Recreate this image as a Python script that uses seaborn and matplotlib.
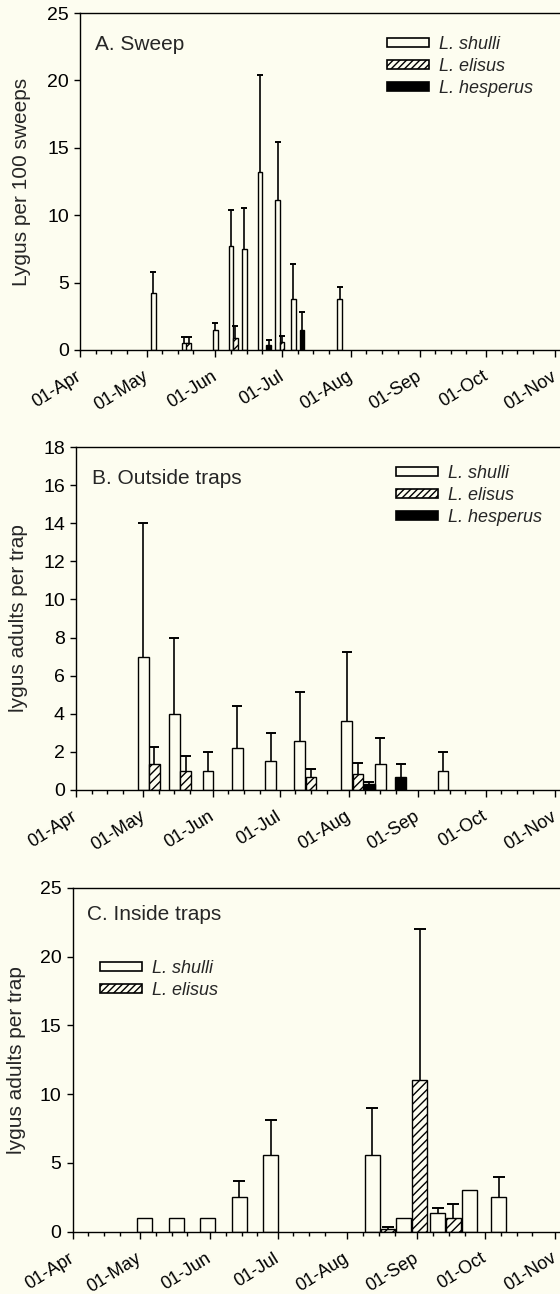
import numpy as np
import pandas as pd
import matplotlib
matplotlib.use("Agg")
import matplotlib.pyplot as plt
from matplotlib.patches import Patch
from matplotlib.ticker import FixedLocator
from matplotlib.transforms import blended_transform_factory
import seaborn as sns

# ---------------- data ----------------
month_starts = ["04-01", "05-01", "06-01", "07-01", "08-01", "09-01", "10-01", "11-01"]
month_labels = ["01-Apr", "01-May", "01-Jun", "01-Jul", "01-Aug", "01-Sep", "01-Oct", "01-Nov"]
species = ["L. shulli", "L. elisus", "L. hesperus"]

# Panel A: sweep samples (Lygus per 100 sweeps, mean and upper SE)
a_shulli_dates = ["05-04", "05-18", "06-01", "06-08", "06-14", "06-21", "06-29", "07-06", "07-27"]
a_shulli_vals = [4.2, 0.5, 1.5, 7.7, 7.5, 13.2, 11.1, 3.8, 3.8]
a_shulli_err = [1.6, 0.45, 0.5, 2.7, 3.0, 7.2, 4.3, 2.55, 0.85]
a_elisus_dates = ["05-20", "06-10", "07-01"]
a_elisus_vals = [0.5, 0.9, 0.57]
a_elisus_err = [0.45, 0.9, 0.5]
a_hesperus_dates = ["06-25", "07-10"]
a_hesperus_vals = [0.37, 1.48]
a_hesperus_err = [0.37, 1.32]

# Panel B: outside traps (adults per trap)
b_shulli_dates = ["05-01", "05-15", "05-30", "06-12", "06-27", "07-10", "07-31", "08-15", "09-12"]
b_shulli_vals = [7.0, 4.0, 1.0, 2.2, 1.5, 2.57, 3.62, 1.35, 1.0]
b_shulli_err = [7.0, 4.0, 1.0, 2.2, 1.5, 2.55, 3.6, 1.37, 1.02]
b_elisus_dates = ["05-06", "05-20", "07-15", "08-05"]
b_elisus_vals = [1.35, 1.0, 0.67, 0.82]
b_elisus_err = [0.9, 0.8, 0.43, 0.58]
b_hesperus_dates = ["08-10", "08-24"]
b_hesperus_vals = [0.3, 0.68]
b_hesperus_err = [0.14, 0.68]

# Panel C: inside traps (adults per trap); nan = no error bar
c_shulli_dates = ["05-03", "05-17", "05-31", "06-14", "06-28", "08-12", "08-26", "09-10", "09-24", "10-07"]
c_shulli_vals = [1.0, 1.0, 1.0, 2.5, 5.6, 5.6, 1.0, 1.33, 3.0, 2.5]
c_shulli_err = [np.nan, np.nan, np.nan, 1.2, 2.5, 3.4, np.nan, 0.37, np.nan, 1.5]
c_elisus_dates = ["08-19", "09-02", "09-17"]
c_elisus_vals = [0.2, 11.0, 1.0]
c_elisus_err = [0.15, 11.0, 1.0]

# ---------------- style ----------------
BG = "#fdfdf0"
sns.set_theme(style="ticks", rc={
    "figure.facecolor": BG, "axes.facecolor": BG, "savefig.facecolor": BG,
    "axes.edgecolor": "black", "axes.linewidth": 1.0,
    "xtick.color": "black", "ytick.color": "black",
    "hatch.linewidth": 1.0,
})
plt.rcParams["font.family"] = ["Liberation Sans", "DejaVu Sans"]

W, H = 560, 1294
fig = plt.figure(figsize=(W / 100, H / 100), dpi=100)

BASE = pd.Timestamp("2005-04-01")


def to_days(md):
    return np.array([(pd.Timestamp(f"2005-{s}") - BASE).days for s in md], dtype=float)


month_pos = to_days(month_starts)
minor_pos = [m + k for m in month_pos[:-1] for k in (7, 14, 21)]


def draw_series(ax, dates, vals, errs, face, hatch, bar_days, capsize):
    x = to_days(dates)
    y = np.asarray(vals, dtype=float)
    e = np.asarray(errs, dtype=float)
    uniq = np.unique(x)
    step = np.min(np.diff(uniq)) if len(uniq) > 1 else 1.0
    n0 = len(ax.patches)
    sns.barplot(x=x, y=y, native_scale=True, width=bar_days / step, color=face,
                saturation=1, edgecolor="black", linewidth=1.0, errorbar=None,
                ax=ax, zorder=2)
    for p in ax.patches[n0:]:
        if hatch:
            p.set_hatch(hatch)
    m = np.isfinite(e) & (e > 0)
    # upper-only error bars: stem from bar top plus a single cap at the top
    ax.errorbar(x[m], y[m], yerr=[np.zeros(m.sum()), e[m]], fmt="none",
                ecolor="black", elinewidth=1.2, capsize=0, zorder=3)
    ax.plot(x[m], y[m] + e[m], linestyle="none", marker="_", markersize=capsize,
            markeredgewidth=1.4, color="black", zorder=3)


def px_axes(left, top, right_px, bottom):
    return fig.add_axes([left / W, 1 - bottom / H, (right_px - left) / W, (bottom - top) / H])


def style_axes(ax, ymax, ystep, ylabel, label_x, xmax):
    ax.set_xlim(0, xmax)
    ax.set_ylim(0, ymax)
    ticks = np.arange(0, ymax + 0.001, ystep)
    ax.set_yticks(ticks)
    ax.set_yticklabels([f"{v:g}" for v in ticks])
    ax.xaxis.set_major_locator(FixedLocator(month_pos))
    ax.xaxis.set_minor_locator(FixedLocator(minor_pos))
    ax.set_xticklabels(month_labels, rotation=32, ha="right", va="center",
                       rotation_mode="anchor")
    ax.tick_params(axis="x", which="major", direction="out", length=5, width=1.0,
                   labelsize=13, pad=13)
    ax.tick_params(axis="x", which="minor", direction="out", length=3, width=1.0)
    ax.tick_params(axis="y", which="major", direction="out", length=4, width=1.0,
                   labelsize=14, pad=4)
    ax.spines["right"].set_visible(False)
    ax.set_xlabel("")
    ax.set_ylabel(ylabel, fontsize=15)
    ax.yaxis.set_label_coords(label_x / W, 0.5,
                              transform=blended_transform_factory(fig.transFigure, ax.transAxes))


def add_legend(ax, n, x_px, y_px):
    handles = [
        Patch(facecolor=BG, edgecolor="black", linewidth=1.2),
        Patch(facecolor=BG, edgecolor="black", linewidth=1.2, hatch="/////"),
        Patch(facecolor="black", edgecolor="black", linewidth=1.2),
    ][:n]
    ax.legend(handles, species[:n], loc="upper left",
              bbox_to_anchor=(x_px / W, 1 - y_px / H), bbox_transform=fig.transFigure,
              frameon=False, borderpad=0, borderaxespad=0,
              prop={"style": "italic", "size": 13},
              handlelength=2.3, handleheight=0.35, handletextpad=0.6,
              labelspacing=0.28)


# ---- Panel A ----
axA = px_axes(80, 13, 563, 350)
draw_series(axA, a_shulli_dates, a_shulli_vals, a_shulli_err, BG, None, 2.1, 5)
draw_series(axA, a_elisus_dates, a_elisus_vals, a_elisus_err, BG, "////", 2.1, 5)
draw_series(axA, a_hesperus_dates, a_hesperus_vals, a_hesperus_err, "black", None, 2.1, 5)
style_axes(axA, 25, 5, "Lygus per 100 sweeps", 31, 217.5)
add_legend(axA, 3, 387, 36)
fig.text(95 / W, 1 - 45 / H, "A. Sweep", fontsize=15, ha="left", va="center")

# ---- Panel B ----
axB = px_axes(76, 447, 565, 790)
draw_series(axB, b_shulli_dates, b_shulli_vals, b_shulli_err, BG, None, 4.8, 7)
draw_series(axB, b_elisus_dates, b_elisus_vals, b_elisus_err, BG, "////", 4.8, 7)
draw_series(axB, b_hesperus_dates, b_hesperus_vals, b_hesperus_err, "black", None, 4.8, 7)
style_axes(axB, 18, 2, "lygus adults per trap", 28, 218.5)
add_legend(axB, 3, 396, 465)
fig.text(92 / W, 1 - 478 / H, "B. Outside traps", fontsize=15, ha="left", va="center")

# ---- Panel C ----
axC = px_axes(72.5, 888, 565, 1231.7)
draw_series(axC, c_shulli_dates, c_shulli_vals, c_shulli_err, BG, None, 6.6, 9)
draw_series(axC, c_elisus_dates, c_elisus_vals, c_elisus_err, BG, "////", 6.6, 9)
style_axes(axC, 25, 5, "lygus adults per trap", 26, 218.5)
add_legend(axC, 2, 100, 960)
fig.text(87 / W, 1 - 914 / H, "C. Inside traps", fontsize=15, ha="left", va="center")

fig.savefig("out.png", dpi=100, facecolor=BG)
